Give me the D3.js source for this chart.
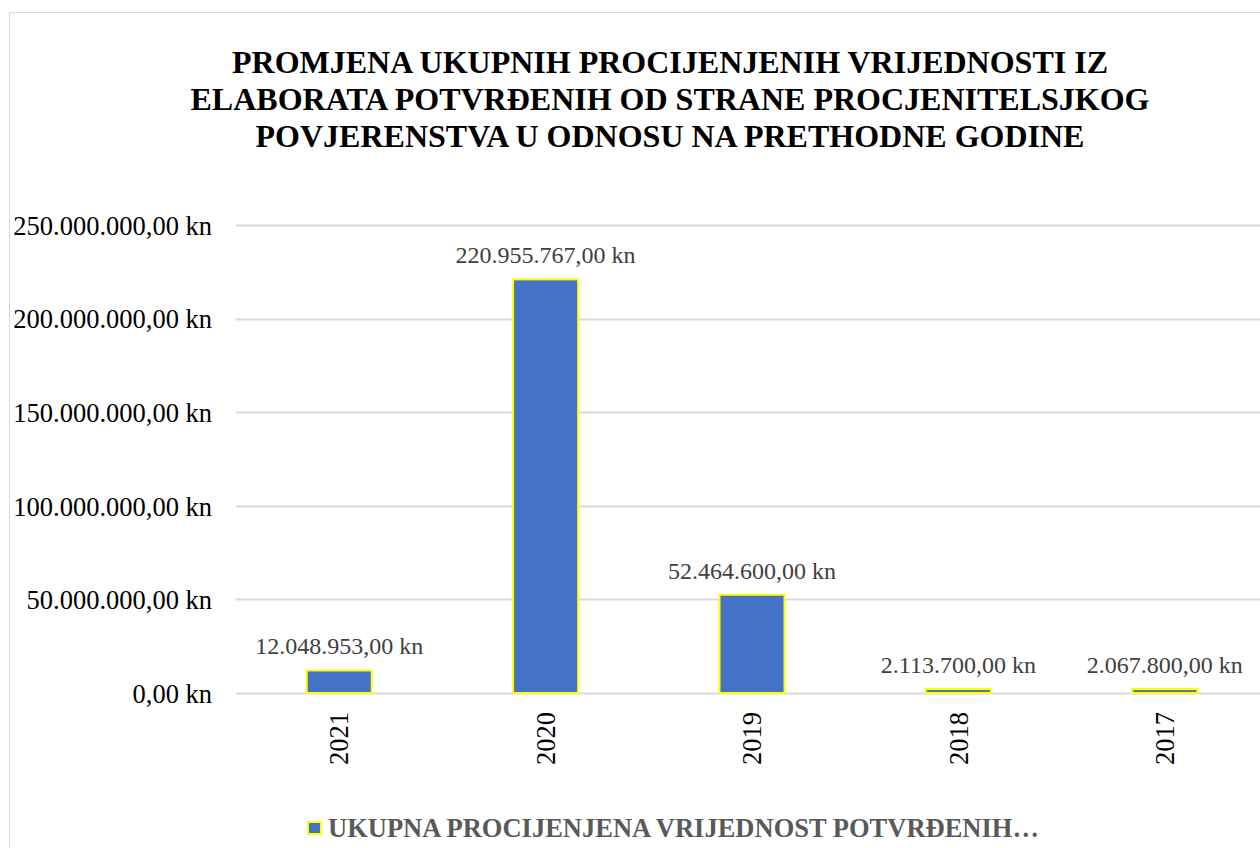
<!DOCTYPE html>
<html>
<head>
<meta charset="utf-8">
<script src="https://cdn.jsdelivr.net/npm/d3@7/dist/d3.min.js"></script>
<style>
  html, body { margin: 0; padding: 0; background: #fff; overflow: hidden; }
  svg { display: block; }
</style>
</head>
<body>
<svg id="chart" width="1260" height="848"></svg>
<script>
// Years shown on the category axis
const years = ["2021", "2020", "2019", "2018", "2017"];
// Total assessed values (kn) per year
const totals = [12048953, 220955767, 52464600, 2113700, 2067800];
// Value axis ticks
const yTicks = [0, 50000000, 100000000, 150000000, 200000000, 250000000];

const titleLines = [
  "PROMJENA UKUPNIH PROCIJENJENIH VRIJEDNOSTI IZ",
  "ELABORATA POTVRĐENIH OD STRANE PROCJENITELSJKOG",
  "POVJERENSTVA U ODNOSU NA PRETHODNE GODINE"
];
const legendLabel = "UKUPNA PROCIJENJENA VRIJEDNOST POTVRĐENIH…";

const FONT = "'Liberation Serif', 'Times New Roman', serif";
const svg = d3.select("#chart");

// Hrvatski format: točka za tisućice, zarez za decimale
const hr = d3.formatLocale({ decimal: ",", thousands: ".", grouping: [3], currency: ["", " kn"] });
const fmt = v => hr.format(",.2f")(v) + " kn";

// Outer chart frame
svg.append("rect")
  .attr("x", 9.5).attr("y", 12.5)
  .attr("width", 1300).attr("height", 900)
  .attr("fill", "#fff").attr("stroke", "#d9d9d9").attr("stroke-width", 1);

// Title
const title = svg.append("text")
  .attr("text-anchor", "middle")
  .attr("font-family", FONT).attr("font-weight", "bold")
  .attr("font-size", 32).attr("fill", "#000");
titleLines.forEach((t, i) => {
  title.append("tspan").attr("x", 670).attr("y", 73 + i * 37).text(t);
});

const plot = { left: 236, right: 1268, top: 225, bottom: 693 };

const x = d3.scaleBand()
  .domain(years)
  .range([plot.left, plot.right])
  .paddingInner(0.685).paddingOuter(0.3425);

const y = d3.scaleLinear()
  .domain([0, 250000000])
  .range([plot.bottom, plot.top]);

// Horizontal gridlines
svg.append("g")
  .selectAll("line")
  .data(yTicks)
  .join("line")
  .attr("x1", plot.left).attr("x2", plot.right)
  .attr("y1", d => Math.round(y(d)) + 0.5).attr("y2", d => Math.round(y(d)) + 0.5)
  .attr("stroke", "#d9d9d9").attr("stroke-width", 2);

// Value axis labels
const yAxis = svg.append("g")
  .attr("transform", `translate(${plot.left - 24},0)`)
  .call(d3.axisLeft(y).tickValues(yTicks).tickFormat(fmt).tickSize(0).tickPadding(0));
yAxis.select(".domain").remove();
yAxis.selectAll("text")
  .attr("font-family", FONT).attr("font-size", 26.5).attr("fill", "#000")
  .attr("dy", "0.35em");

// Bars
svg.append("g")
  .selectAll("rect")
  .data(years)
  .join("rect")
  .attr("x", d => x(d))
  .attr("width", x.bandwidth())
  .attr("y", (d, i) => y(totals[i]))
  .attr("height", (d, i) => y(0) - y(totals[i]))
  .attr("fill", "#4472C4")
  .attr("stroke", "#FFFF00").attr("stroke-width", 2);

// Data labels
svg.append("g")
  .selectAll("text")
  .data(years)
  .join("text")
  .attr("x", d => x(d) + x.bandwidth() / 2)
  .attr("y", (d, i) => y(totals[i]) - 16)
  .attr("text-anchor", "middle")
  .attr("font-family", FONT).attr("font-size", 24).attr("fill", "#404040")
  .text((d, i) => fmt(totals[i]));

// Category axis labels (rotated)
const xAxis = svg.append("g")
  .attr("transform", `translate(0,${plot.bottom})`)
  .call(d3.axisBottom(x).tickSize(0).tickPadding(0));
xAxis.select(".domain").remove();
xAxis.selectAll("text")
  .attr("font-family", FONT).attr("font-size", 26.5).attr("fill", "#000")
  .attr("text-anchor", "end")
  .attr("transform", "translate(0,19) rotate(-90)")
  .attr("x", 0).attr("y", 0).attr("dy", "0.35em");

// Legend
const legend = svg.append("g").attr("transform", "translate(308,822)");
legend.append("rect")
  .attr("x", 0).attr("y", 0).attr("width", 13).attr("height", 12)
  .attr("fill", "#4472C4").attr("stroke", "#FFFF00").attr("stroke-width", 2);
legend.append("text")
  .attr("x", 20).attr("y", 15)
  .attr("font-family", FONT).attr("font-weight", "bold")
  .attr("font-size", 26.5).attr("fill", "#595959")
  .text(legendLabel);
</script>
</body>
</html>
